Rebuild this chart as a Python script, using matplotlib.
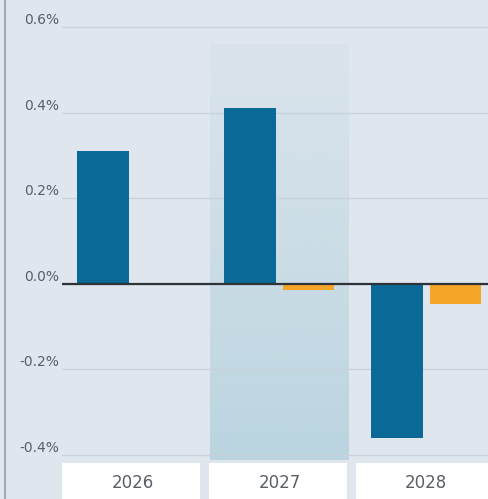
import numpy as np
import matplotlib.pyplot as plt
from matplotlib.patches import Rectangle
from matplotlib.lines import Line2D
from matplotlib.transforms import blended_transform_factory

# data (percent)
years = ['2026', '2027', '2028']
blue_vals = [0.31, 0.41, -0.36]
orange_vals = [0.0, -0.015, -0.047]
yticks = [-0.4, -0.2, 0.0, 0.2, 0.4, 0.6]
ytick_labels = ['-0.4%', '-0.2%', '0.0%', '0.2%', '0.4%', '0.6%']
highlight_year = '2027'

bg = '#dfe6ee'
blue = '#0a6996'
orange = '#f5a52a'

fig = plt.figure(figsize=(4.88, 4.99), dpi=100)
fig.set_facecolor(bg)
ax = fig.add_axes([62 / 488, 39 / 499, 426 / 488, 460 / 499])
ax.set_facecolor(bg)

x = np.arange(len(years))
w = 0.35
off = 0.2

# highlight band with vertical gradient
hi = years.index(highlight_year)
ylo, yhi = -0.412, 0.663
grad = np.zeros((100, 1, 4))
grad[:, 0, :3] = np.array([165, 203, 216]) / 255
grad[:, 0, 3] = np.linspace(0.1, 0.65, 100) ** 1.1
ax.imshow(grad, extent=[hi - 0.47, hi + 0.47, ylo, 0.56], origin='upper',
          aspect='auto', zorder=0.5, interpolation='bilinear')

ax.bar(x - off, blue_vals, width=w, color=blue, zorder=2)
ax.bar(x + off, orange_vals, width=w, color=orange, zorder=2)

ax.axhline(0, color='#2e3338', linewidth=1.6, zorder=3)

ax.set_xlim(-0.48, 2.42)
ax.set_ylim(ylo, yhi)
ax.set_yticks(yticks)
ax.set_yticklabels(ytick_labels)
ax.set_xticks([])
ax.grid(axis='y', color='#c9d2da', linewidth=1.0, zorder=0)
ax.tick_params(axis='y', length=0, pad=2, labelsize=10, labelcolor='#5a5f66')
for lab in ax.get_yticklabels():
    lab.set_va('bottom')
for s in ax.spines.values():
    s.set_visible(False)

# white boxes for year labels
tr = blended_transform_factory(ax.transData, fig.transFigure)
for i, yr in enumerate(years):
    r = Rectangle((i - 0.48, 0), 0.94, 36 / 499, transform=tr,
                  facecolor='white', edgecolor='none', clip_on=False, zorder=1)
    fig.add_artist(r)
    fig.text(i, 16 / 499, yr, transform=tr, ha='center', va='center',
             fontsize=12, color='#5a5f66', zorder=2)

# left edge line
fig.add_artist(Line2D([5 / 488, 5 / 488], [0, 1], color='#a3aab2', linewidth=1.5))

plt.savefig('out.png', dpi=100, facecolor=bg)
